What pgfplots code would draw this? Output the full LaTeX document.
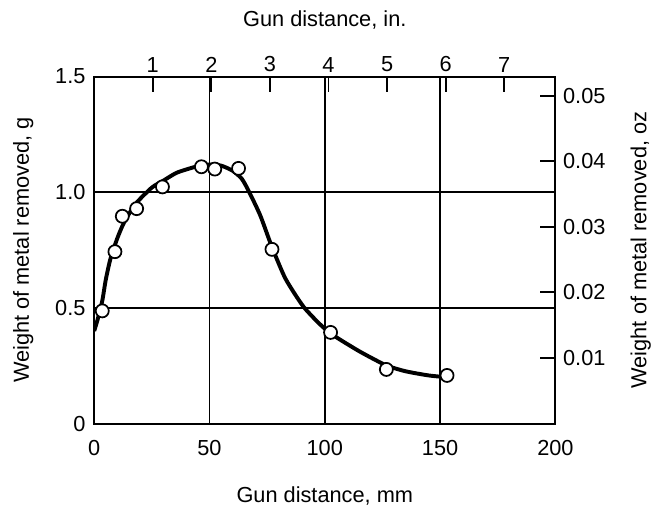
\documentclass[border=0pt]{standalone}
\usepackage{fontspec}
\setmainfont{Liberation Sans}
\usepackage{pgfplots}
\pgfplotsset{compat=1.18}
\begin{document}
\begin{tikzpicture}[font=\fontsize{10}{12}\selectfont]
% bottom/left axis: mm and g
\begin{axis}[
  width=212pt, height=159.5pt, scale only axis,
  xmin=0, xmax=200, ymin=0, ymax=1.5,
  xtick={0,50,100,150,200},
  ytick={0,0.5,1,1.5},
  yticklabels={0,0.5,1.0,1.5},
  xtick pos=left, ytick pos=left,
  major tick length=0pt,
  grid=major, grid style={black, line width=0.7pt},
  axis line style={line width=0.9pt},
  /pgf/number format/assume math mode=true,
  xticklabel style={yshift=-4pt},
  yticklabel style={xshift=-0.5pt},
  xlabel={Gun distance, mm},
  ylabel={Weight of metal removed, g},
  xlabel style={yshift=-8pt, inner sep=3pt},
  ylabel style={yshift=0.5pt, inner sep=6pt},
]
  % fitted curve
  \addplot[black, line width=1.8pt, smooth, tension=0.4] coordinates {
    (0,0.40) (1.5,0.45) (3.5,0.53) (5,0.62) (7,0.71) (10,0.80) (13,0.87)
    (18,0.95) (25,1.02) (30,1.05) (36,1.085) (45,1.113) (50,1.12)
    (55,1.115) (60,1.093) (64,1.058) (67,1.005) (72,0.90) (77,0.765)
    (82.5,0.635) (87,0.56) (91,0.502) (96,0.448) (100,0.41) (105,0.373)
    (114,0.318) (120,0.285) (127,0.25) (135,0.226) (145,0.208) (153,0.20)
  };
  % measured points
  \addplot[only marks, mark=*, mark size=3pt,
           mark options={fill=white, draw=black, line width=0.8pt}] coordinates {
    (3.5,0.487) (9,0.743) (12.2,0.896) (18.4,0.929) (29.6,1.023)
    (46.5,1.110) (52.3,1.100) (62.6,1.103) (77.1,0.753)
    (102.5,0.394) (126.7,0.234) (153,0.208)
  };
\end{axis}
% top/right axis: inches and ounces
\begin{axis}[
  width=212pt, height=159.5pt, scale only axis,
  xmin=0, xmax=7.874, ymin=0, ymax=0.052911,
  xtick={1,2,3,4,5,6,7},
  ytick={0.01,0.02,0.03,0.04,0.05},
  scaled y ticks=false,
  xtick pos=right, xticklabel pos=right,
  ytick pos=right, yticklabel pos=right,
  tick align=inside, major tick length=7pt,
  tick style={black, line width=0.9pt},
  axis line style={draw=none},
  /pgf/number format/assume math mode=true,
  yticklabel style={/pgf/number format/fixed, /pgf/number format/fixed zerofill,
                    /pgf/number format/precision=2},
  xticklabel style={yshift=-1.5pt},
  xlabel={Gun distance, in.},
  ylabel={Weight of metal removed, oz},
  xlabel style={yshift=4pt, inner sep=5pt},
  ylabel style={yshift=-7pt, inner sep=1pt},
]
  \addplot[draw=none] coordinates {(0,0) (7.874,0.052911)};
\end{axis}
\end{tikzpicture}
\end{document}
